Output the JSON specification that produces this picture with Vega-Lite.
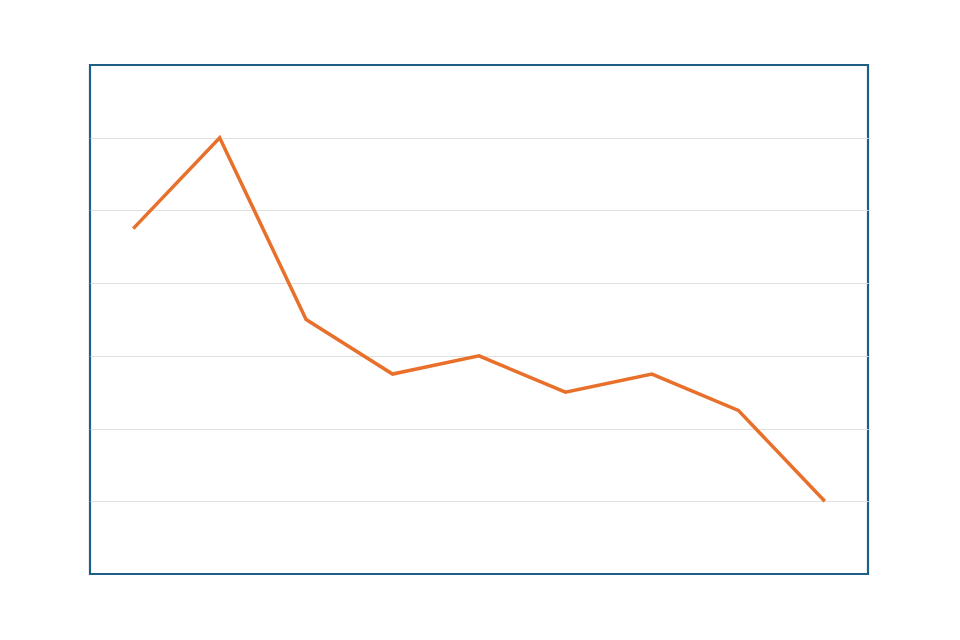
{
  "$schema": "https://vega.github.io/schema/vega-lite/v6.json",
  "width": 778,
  "height": 509,
  "autosize": {"type": "none"},
  "padding": {"left": 90, "top": 65, "right": 92, "bottom": 66},
  "background": "white",
  "config": {
    "view": {"stroke": "#1f5f87", "strokeWidth": 2.2},
    "axis": {"domain": false, "ticks": false, "labels": false, "title": null}
  },
  "data": {
    "values": [
      {"step": 1, "value": 47.5},
      {"step": 2, "value": 60},
      {"step": 3, "value": 35},
      {"step": 4, "value": 27.5},
      {"step": 5, "value": 30},
      {"step": 6, "value": 25},
      {"step": 7, "value": 27.5},
      {"step": 8, "value": 22.5},
      {"step": 9, "value": 10}
    ]
  },
  "mark": {"type": "line", "color": "#e8702a", "strokeWidth": 3.5},
  "encoding": {
    "x": {
      "field": "step",
      "type": "ordinal",
      "scale": {"type": "point", "padding": 0.5},
      "axis": {"grid": false}
    },
    "y": {
      "field": "value",
      "type": "quantitative",
      "scale": {"domain": [0, 70], "nice": false},
      "axis": {"values": [10, 20, 30, 40, 50, 60], "grid": true, "gridColor": "#e0e0e0", "gridWidth": 1}
    }
  }
}
